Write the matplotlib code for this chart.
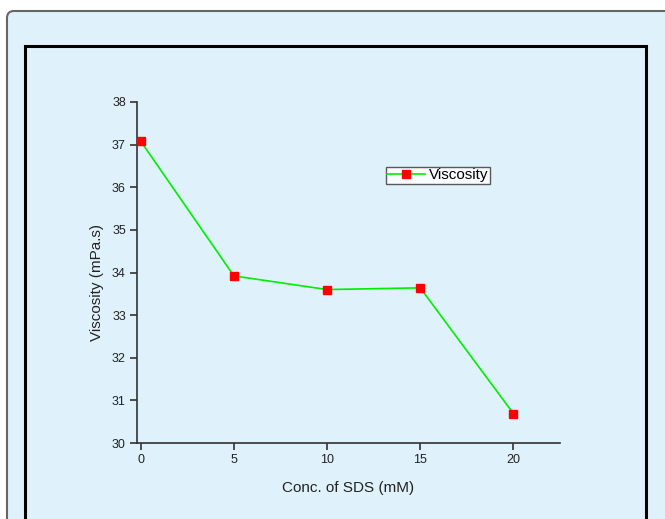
import numpy as np
import matplotlib.pyplot as plt
from matplotlib.patches import FancyBboxPatch, Rectangle

plt.rcParams['font.family'] = ['Liberation Sans', 'DejaVu Sans']

# data
conc = [0, 5, 10, 15, 20]
viscosity = [37.08, 33.92, 33.60, 33.64, 30.69]

W, H = 665, 519
fig = plt.figure(figsize=(W / 100, H / 100), dpi=100)
fig.patch.set_facecolor('white')

bg = '#dff1fb'
# outer rounded panel (pixel coords, origin bottom-left)
panel = FancyBboxPatch((7, -50), W + 50, H - 11 + 50,
                       boxstyle='round,pad=0,rounding_size=7',
                       transform=None, facecolor=bg,
                       edgecolor='#666666', linewidth=1.5, zorder=-2)
fig.patches.append(panel)
# inner black frame
frame = Rectangle((25, -50), 646 - 25, H - 46 + 50, transform=None,
                  facecolor='none', edgecolor='black', linewidth=2.2,
                  zorder=-1)
fig.patches.append(frame)

ax = fig.add_axes([137 / W, 1 - 443 / H, (560 - 137) / W, (443 - 102) / H])
ax.set_zorder(2)
ax.set_facecolor('none')
ax.plot(conc, viscosity, color='#00ee00', linewidth=1.2, marker='s',
        markersize=6, markerfacecolor='red', markeredgecolor='red',
        label='Viscosity', zorder=3, clip_on=False)

ax.set_xlim(-0.2, 22.5)
ax.set_ylim(30, 38)
ax.set_xticks([0, 5, 10, 15, 20])
ax.set_yticks(np.arange(30, 39, 1))
for s in ['top', 'right']:
    ax.spines[s].set_visible(False)
for s in ['left', 'bottom']:
    ax.spines[s].set_color('#333333')
    ax.spines[s].set_linewidth(1.2)
ax.tick_params(direction='out', length=5, width=1.2, color='#333333',
               labelsize=9, labelcolor='#222222', pad=3)

ax.set_xlabel('Conc. of SDS (mM)', fontsize=11, color='#222222', labelpad=11)
ax.set_ylabel('Viscosity (mPa.s)', fontsize=11, color='#222222')
ax.yaxis.set_label_coords(-0.077, 0.47)

leg = ax.legend(loc='upper left', bbox_to_anchor=(0.588, 0.810), fontsize=11,
                frameon=True, fancybox=False, handlelength=2.5,
                borderpad=0.1, handletextpad=0.2, borderaxespad=0)
leg.get_frame().set_edgecolor('#333333')
leg.get_frame().set_facecolor('white')
leg.get_frame().set_linewidth(1.0)

fig.savefig('out.png', dpi=100)
